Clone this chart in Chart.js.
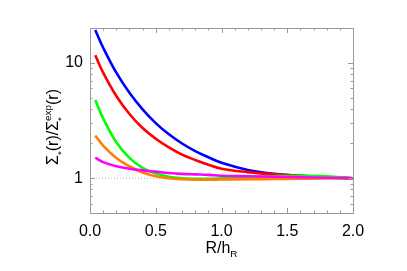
<!DOCTYPE html>
<html>
<head>
<meta charset="utf-8">
<style>
  html, body { margin: 0; padding: 0; background: #fff; }
</style>
<script src="https://cdn.jsdelivr.net/npm/chart.js@4"></script>
</head>
<body>
<canvas id="chart" width="407" height="271"></canvas>
<script>
// radius in units of the scale length
const radius = [0.04, 0.1, 0.2, 0.3, 0.4, 0.5, 0.6, 0.7, 0.8, 0.9, 1.0, 1.2, 1.4, 1.6, 1.8, 2.0];

// surface density ratio curves
const blueRatio    = [19.2, 13.5, 8.2, 5.5, 3.95, 3.0, 2.4, 2.0, 1.72, 1.52, 1.36, 1.18, 1.09, 1.05, 1.02, 1.0];
const redRatio     = [11.6, 8.2, 5.15, 3.6, 2.72, 2.2, 1.85, 1.6, 1.44, 1.31, 1.21, 1.13, 1.08, 1.05, 1.02, 1.0];
const greenRatio   = [4.75, 3.3, 2.05, 1.5, 1.23, 1.1, 1.03, 1.0, 0.99, 0.99, 1.0, 1.02, 1.04, 1.05, 1.04, 1.0];
const orangeRatio  = [2.34, 1.92, 1.5, 1.27, 1.12, 1.04, 1.0, 0.98, 0.97, 0.97, 0.975, 0.98, 0.985, 0.99, 0.995, 1.0];
const magentaRatio = [1.51, 1.38, 1.27, 1.21, 1.17, 1.14, 1.11, 1.09, 1.08, 1.07, 1.05, 1.04, 1.03, 1.02, 1.01, 1.0];

// dotted reference at ratio = 1
const refX = [0, 2];
const refY = [1, 1];

// axis ticks
const xMajor = [0, 0.5, 1.0, 1.5, 2.0];
const xMinor = [0.1, 0.2, 0.3, 0.4, 0.6, 0.7, 0.8, 0.9, 1.1, 1.2, 1.3, 1.4, 1.6, 1.7, 1.8, 1.9];
const yMajor = [1, 10];
const yMinor = [0.5, 0.6, 0.7, 0.8, 0.9, 2, 3, 4, 5, 6, 7, 8, 9, 20];

const FONT = '"Liberation Sans", Arial, Helvetica, sans-serif';
const AXIS = '#9a9a9a';

const pts = (xs, ys) => xs.map((x, i) => ({ x: x, y: ys[i] }));

function curve(vals, color){
  return {
    data: pts(radius, vals),
    borderColor: color,
    borderWidth: 2.6,
    pointRadius: 0,
    tension: 0.4,
    fill: false
  };
}

// draw text pieces with sub/superscripts, centred on x, baseline y
function richText(ctx, parts, x, y, size){
  let w = 0;
  parts.forEach(p => {
    const s = p.sub || p.sup ? size * 0.62 : size;
    ctx.font = s + 'px ' + FONT;
    p.w = ctx.measureText(p.t).width;
    p.s = s;
    if (!p.stack) w += p.w;
  });
  let cx = x - w / 2;
  parts.forEach(p => {
    ctx.font = p.s + 'px ' + FONT;
    let dy = 0;
    if (p.sub) dy = p.dy != null ? p.dy : size * 0.28;
    if (p.sup) dy = -size * 0.42;
    ctx.fillText(p.t, cx, y + dy);
    if (!p.stack) cx += p.w;
  });
}

const frame = {
  id: 'frame',
  afterDraw(chart){
    const { ctx, chartArea: a, scales: { x, y } } = chart;
    ctx.save();
    ctx.strokeStyle = AXIS;
    ctx.lineWidth = 1;
    ctx.strokeRect(Math.round(a.left) + 0.5, Math.round(a.top) + 0.5,
                   Math.round(a.right - a.left), Math.round(a.bottom - a.top));
    ctx.beginPath();
    const tickX = (vals, len) => vals.forEach(v => {
      const px = Math.round(x.getPixelForValue(v)) + 0.5;
      ctx.moveTo(px, a.bottom); ctx.lineTo(px, a.bottom - len);
      ctx.moveTo(px, a.top); ctx.lineTo(px, a.top + len);
    });
    const tickY = (vals, len) => vals.forEach(v => {
      const py = Math.round(y.getPixelForValue(v)) + 0.5;
      ctx.moveTo(a.left, py); ctx.lineTo(a.left + len, py);
      ctx.moveTo(a.right, py); ctx.lineTo(a.right - len, py);
    });
    tickX(xMajor, 5); tickX(xMinor, 2.5);
    tickY(yMajor, 5); tickY(yMinor, 2.5);
    ctx.stroke();

    // axis titles
    ctx.fillStyle = '#000';
    ctx.textBaseline = 'alphabetic';
    ctx.textAlign = 'left';
    richText(ctx, [{ t: 'R/h' }, { t: 'R', sub: true, dy: 4 }], (a.left + a.right) / 2, 253, 16);

    ctx.translate(58, 127);
    ctx.rotate(-Math.PI / 2);
    richText(ctx, [
      { t: '\u03A3' }, { t: '*', sub: true, dy: 6 }, { t: '(r)/\u03A3' },
      { t: '*', sub: true, dy: 6, stack: true }, { t: 'exp', sup: true }, { t: '(r)' }
    ], 0, 0, 16);
    ctx.restore();
  }
};

new Chart(document.getElementById('chart'), {
  type: 'line',
  data: {
    datasets: [
      curve(magentaRatio, '#ff00ff'),
      curve(orangeRatio, '#ff8000'),
      curve(greenRatio, '#00ff00'),
      curve(redRatio, '#ff0000'),
      curve(blueRatio, '#0000ff'),
      {
        data: pts(refX, refY),
        borderColor: '#b0b0b0',
        borderWidth: 1,
        borderDash: [1, 2],
        pointRadius: 0
      }
    ]
  },
  options: {
    responsive: false,
    animation: false,
    layout: { padding: { left: 0, right: 54, top: 28, bottom: 0 } },
    plugins: { legend: { display: false }, tooltip: { enabled: false } },
    scales: {
      x: {
        type: 'linear', min: 0, max: 2,
        border: { display: false },
        grid: { display: false, drawTicks: false },
        ticks: {
          stepSize: 0.5, padding: 9, color: '#000', maxRotation: 0,
          font: { family: FONT, size: 16 },
          callback: v => Number(v).toFixed(1)
        },
        afterFit: s => { s.height = 58; }
      },
      y: {
        type: 'logarithmic', min: 0.5, max: 20,
        border: { display: false },
        grid: { display: false, drawTicks: false },
        ticks: {
          padding: 7, color: '#000',
          font: { family: FONT, size: 16 },
          callback: v => String(v)
        },
        afterBuildTicks: s => { s.ticks = yMajor.map(v => ({ value: v })); },
        afterFit: s => { s.width = 90; }
      }
    }
  },
  plugins: [frame]
});
</script>
</body>
</html>
